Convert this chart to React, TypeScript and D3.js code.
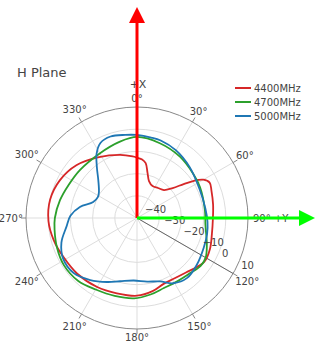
import React from "react";
import * as d3 from "d3";

const title = "H Plane";
const seriesNames = ["4400MHz", "4700MHz", "5000MHz"];
const seriesColors = ["#d62728", "#2ca02c", "#1f77b4"];

const radialTicks = [-40, -30, -20, -10, 0, 10];
const angularTicks = [0, 30, 60, 90, 120, 150, 180, 210, 240, 270, 300, 330];
const angularTickText = ["0°", "30°", "60°", "90° +Y", "120°", "150°", "180°", "210°", "240°", "270°", "300°", "330°"];

const theta4400 = [0, 5, 9, 13, 18, 26, 35, 44, 50, 54, 57, 60, 64, 70, 80, 90, 102, 113, 123, 130, 138, 148, 158, 168, 180, 195, 210, 227, 242, 255, 268, 282, 296, 311, 328, 345, 356];
const r4400 = [-12.8, -13.5, -15, -19, -22.5, -24, -23.5, -22.5, -19, -14, -9, -5.5, -3.6, -4.3, -5.2, -5.8, -5.5, -4.3, -3.8, -5.3, -7, -8, -8, -6.3, -5, -4.9, -4.1, -3.2, -2.5, -1.2, -0.1, 0, -1.3, -3.8, -7.7, -10.6, -12.2];

const theta4700 = [0, 17, 35, 52, 64, 83, 96, 111, 120, 127, 136, 148, 159, 170, 182, 196, 210, 223, 237, 250, 262, 270, 283, 296, 310, 330, 347];
const r4700 = [-3.5, -4.8, -6.3, -7.8, -8.4, -9.2, -9, -6.3, -4.3, -4.1, -5.5, -6.2, -6.2, -5, -3.8, -3.5, -2.8, -1.2, -0.8, -1.6, -2.5, -3, -4.4, -5.8, -6.4, -6.4, -4.8];

const theta5000 = [0, 10, 17, 30, 46, 66, 82, 93, 103, 114, 128, 140, 151, 160, 171, 183, 195, 205, 217, 229, 241, 252, 263, 272, 281, 290, 298, 304, 314, 322, 328, 334, 342, 352];
const r5000 = [-2.6, -3.2, -3.5, -4.8, -7, -9, -8.9, -8.2, -7.6, -7.1, -5.8, -4.8, -6.4, -9.6, -11, -11.8, -10.5, -8.2, -5, -2.2, -2, -4.2, -8, -10, -13.8, -19, -20, -19.3, -15.8, -10.6, -5.7, -2.4, -1.4, -2.2];

const allThetas = [theta4400, theta4700, theta5000];
const allValues = [r4400, r4700, r5000];

const W = 320;
const H = 345;
const cx = 137;
const cy = 218;
const R = 111;
const FONT = "DejaVu Sans, Verdana, sans-serif";
const TXT = "#444";

export default function App() {
  const rScale = d3.scaleLinear().domain([-40, 10]).range([0, R]);
  const toRad = (deg: number) => (deg * Math.PI) / 180;
  const line = d3
    .lineRadial<[number, number]>()
    .angle((d) => toRad(d[0]))
    .radius((d) => rScale(d[1]))
    .curve(d3.curveCatmullRomClosed.alpha(0.5));

  const pol = (deg: number, r: number) => [r * Math.sin(toRad(deg)), -r * Math.cos(toRad(deg))];

  const axisAngle = 120;

  return (
    <svg width={W} height={H} style={{ position: "absolute", left: 0, top: 0, background: "#fff" }} fontFamily={FONT}>
      <text x={17} y={77} fontSize={13} fill={TXT}>{title}</text>
      <g transform={`translate(${cx},${cy})`}>
        {radialTicks.slice(1, -1).map((t) => (
          <circle key={t} r={rScale(t)} fill="none" stroke="#ddd" strokeWidth={1} />
        ))}
        {angularTicks.map((a) => {
          const [x, y] = pol(a, R);
          return <line key={a} x1={0} y1={0} x2={x} y2={y} stroke="#ddd" strokeWidth={1} />;
        })}
        <circle r={R} fill="none" stroke="#888" strokeWidth={1} />
        {angularTicks.map((a) => {
          const [x1, y1] = pol(a, R);
          const [x2, y2] = pol(a, R + 5);
          return <line key={"t" + a} x1={x1} y1={y1} x2={x2} y2={y2} stroke="#888" strokeWidth={1} />;
        })}
        {(() => {
          const [x, y] = pol(axisAngle, R);
          return <line x1={0} y1={0} x2={x} y2={y} stroke="#666" strokeWidth={1} />;
        })()}
        {allThetas.map((th, i) => {
          const pts: [number, number][] = th.map((t, j) => [t, allValues[i][j]]);
          return (
            <path key={i} d={line(pts) || ""} fill="none" stroke={seriesColors[i]} strokeWidth={1.8} />
          );
        })}
        {radialTicks.map((t) => {
          const [x, y] = pol(axisAngle, rScale(t));
          return (
            <text key={t} x={x + 8} y={y - 8.5} dy="0.35em" fontSize={10} fill={TXT}>
              {t < 0 ? "\u2212" + Math.abs(t) : String(t)}
            </text>
          );
        })}
        {angularTicks.map((a, i) => {
          const txt = angularTickText[i];
          if (a === 90) {
            return (
              <text key={"l" + a} x={R + 5} y={0} dy="0.35em" fontSize={10} fill={TXT}>{txt}</text>
            );
          }
          const w = 6.4 * (txt.length - 1) + 5;
          const s = Math.abs(Math.sin(toRad(a)));
          const c = Math.abs(Math.cos(toRad(a)));
          const rl = R + 3 + s * (w / 2) + c * 5.5;
          const [x, y] = pol(a, rl);
          return (
            <text key={"l" + a} x={x} y={y} dy="0.35em" textAnchor="middle" fontSize={10} fill={TXT}>{txt}</text>
          );
        })}
        <text x={1} y={-134} dy="0.35em" textAnchor="middle" fontSize={11} fill={TXT}>+X</text>
        {/* arrows */}
        <line x1={0} y1={0} x2={0} y2={-195} stroke="#ff0000" strokeWidth={3} />
        <path d={`M-8,-195 L8,-195 L0,-211 Z`} fill="#ff0000" />
        <line x1={0} y1={0} x2={162} y2={0} stroke="#00ff00" strokeWidth={3} />
        <path d={`M162,-8 L162,8 L178,0 Z`} fill="#00ff00" />
      </g>
      <g>
        {seriesNames.map((n, i) => (
          <g key={n} transform={`translate(235,${88 + i * 14})`}>
            <line x1={0} y1={0} x2={16} y2={0} stroke={seriesColors[i]} strokeWidth={2} />
            <text x={19} y={0} dy="0.35em" fontSize={10} fill={TXT}>{n}</text>
          </g>
        ))}
      </g>
    </svg>
  );
}
